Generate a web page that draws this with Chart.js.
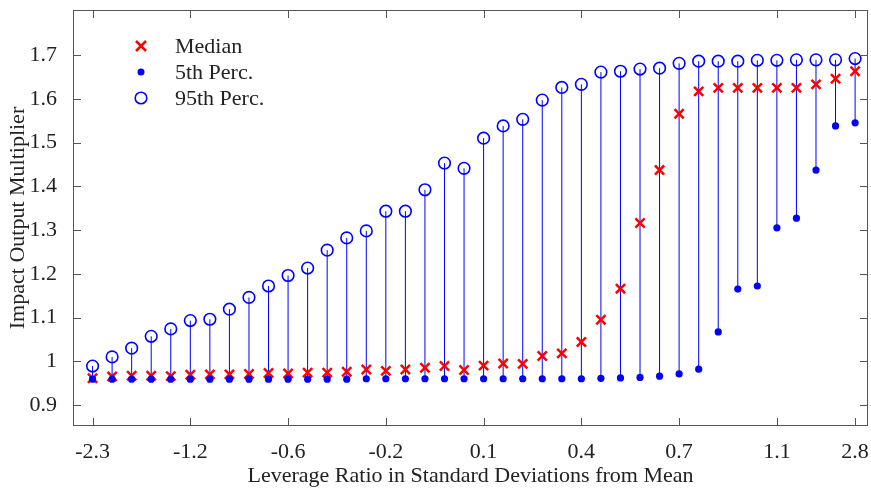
<!DOCTYPE html>
<html lang="en">
<head>
<meta charset="UTF-8">
<title>Impact Output Multiplier</title>
<script src="https://cdn.jsdelivr.net/npm/chart.js"></script>
<style>
    body { margin: 0; background: #fff; }
    #wrap { width: 871px; height: 490px; }
</style>
</head>
<body>
<div id="wrap"><canvas id="stemChart"></canvas></div>
<script>
// x positions are category indices; only some get a label
const tickIdx = [0, 5, 10, 15, 20, 25, 30, 35, 39];
const tickLabels = ['-2.3', '-1.2', '-0.6', '-0.2', '0.1', '0.4', '0.7', '1.1', '2.8'];
const yTicks = [0.9, 1.0, 1.1, 1.2, 1.3, 1.4, 1.5, 1.6, 1.7];

const median = [0.961, 0.965, 0.967, 0.967, 0.966, 0.969, 0.970, 0.970, 0.971, 0.973,
    0.972, 0.974, 0.974, 0.976, 0.981, 0.978, 0.981, 0.985, 0.989, 0.980,
    0.990, 0.995, 0.994, 1.012, 1.018, 1.044, 1.095, 1.166, 1.316, 1.437,
    1.566, 1.617, 1.625, 1.625, 1.625, 1.625, 1.625, 1.633, 1.646, 1.663];
const perc5 = [0.959, 0.959, 0.959, 0.959, 0.959, 0.959, 0.959, 0.959, 0.959, 0.959,
    0.959, 0.959, 0.959, 0.959, 0.960, 0.960, 0.960, 0.960, 0.960, 0.960,
    0.960, 0.960, 0.960, 0.960, 0.960, 0.960, 0.961, 0.962, 0.963, 0.966,
    0.971, 0.982, 1.067, 1.165, 1.172, 1.305, 1.327, 1.437, 1.538, 1.545];
const perc95 = [0.989, 1.010, 1.030, 1.057, 1.074, 1.093, 1.096, 1.119, 1.146, 1.172,
    1.196, 1.213, 1.254, 1.282, 1.298, 1.343, 1.343, 1.392, 1.453, 1.441,
    1.510, 1.538, 1.553, 1.597, 1.626, 1.633, 1.661, 1.663, 1.668, 1.670,
    1.681, 1.686, 1.686, 1.686, 1.688, 1.688, 1.689, 1.689, 1.689, 1.692];

const serif = "'Liberation Serif', 'Times New Roman', serif";
const axisCol = '#555';
const blue = 'rgb(0,0,255)';
const red = 'rgb(255,0,0)';
const fs = 22;

const pts = arr => arr.map((v, i) => ({ x: i, y: v }));

// stems, box, inward ticks and legend
const deco = {
    id: 'deco',
    beforeDatasetsDraw(chart) {
        const ctx = chart.ctx, xs = chart.scales.x, ys = chart.scales.y;
        ctx.save();
        ctx.strokeStyle = blue;
        ctx.lineWidth = 1;
        perc5.forEach((lo, i) => {
            const px = xs.getPixelForValue(i);
            ctx.beginPath();
            ctx.moveTo(px, ys.getPixelForValue(lo));
            ctx.lineTo(px, ys.getPixelForValue(perc95[i]));
            ctx.stroke();
        });
        ctx.restore();
    },
    afterDraw(chart) {
        const ctx = chart.ctx, a = chart.chartArea, xs = chart.scales.x, ys = chart.scales.y;
        ctx.save();
        ctx.strokeStyle = axisCol;
        ctx.lineWidth = 1;
        ctx.strokeRect(a.left + 0.5, a.top + 0.5, a.right - a.left - 1, a.bottom - a.top - 1);
        const tl = 8;
        ctx.beginPath();
        tickIdx.forEach(v => {
            const px = Math.round(xs.getPixelForValue(v)) + 0.5;
            ctx.moveTo(px, a.bottom); ctx.lineTo(px, a.bottom - tl);
            ctx.moveTo(px, a.top); ctx.lineTo(px, a.top + tl);
        });
        yTicks.forEach(v => {
            const py = Math.round(ys.getPixelForValue(v)) + 0.5;
            ctx.moveTo(a.left, py); ctx.lineTo(a.left + tl, py);
            ctx.moveTo(a.right, py); ctx.lineTo(a.right - tl, py);
        });
        ctx.stroke();

        // legend
        const mx = 141, tx = 175, rows = [46, 72, 98];
        ctx.font = fs + 'px ' + serif;
        ctx.fillStyle = '#222';
        ctx.textBaseline = 'middle';
        ['Median', '5th Perc.', '95th Perc.'].forEach((t, i) => ctx.fillText(t, tx, rows[i] + 1));
        ctx.strokeStyle = red; ctx.lineWidth = 2.5;
        ctx.beginPath();
        ctx.moveTo(mx - 5, rows[0] - 5); ctx.lineTo(mx + 5, rows[0] + 5);
        ctx.moveTo(mx + 5, rows[0] - 5); ctx.lineTo(mx - 5, rows[0] + 5);
        ctx.stroke();
        ctx.fillStyle = blue;
        ctx.beginPath(); ctx.arc(mx, rows[1], 3.5, 0, Math.PI * 2); ctx.fill();
        ctx.strokeStyle = blue; ctx.lineWidth = 1.6;
        ctx.beginPath(); ctx.arc(mx, rows[2], 5.8, 0, Math.PI * 2); ctx.stroke();
        ctx.restore();
    }
};

new Chart(document.getElementById('stemChart'), {
    type: 'scatter',
    data: {
        datasets: [{
            label: 'Median',
            data: pts(median),
            pointStyle: 'crossRot',
            pointRadius: 6.5,
            borderColor: red,
            borderWidth: 2.5,
            order: 1
        }, {
            label: '5th Perc.',
            data: pts(perc5),
            pointStyle: 'circle',
            pointRadius: 3.6,
            backgroundColor: blue,
            borderColor: blue,
            borderWidth: 0,
            order: 0
        }, {
            label: '95th Perc.',
            data: pts(perc95),
            pointStyle: 'circle',
            pointRadius: 5.8,
            backgroundColor: 'rgba(0,0,0,0)',
            borderColor: blue,
            borderWidth: 1.6,
            order: 2
        }]
    },
    options: {
        responsive: true,
        maintainAspectRatio: false,
        animation: false,
        layout: { autoPadding: false, padding: { top: 10, right: 3, left: 0, bottom: 0 } },
        plugins: { legend: { display: false }, tooltip: { enabled: false } },
        scales: {
            x: {
                type: 'linear',
                min: -1,
                max: 39.66,
                grid: { display: false },
                border: { display: false },
                afterFit: s => { s.height = 64; s.paddingLeft = 0; s.paddingRight = 0; },
                afterBuildTicks: s => { s.ticks = tickIdx.map(v => ({ value: v })); },
                ticks: {
                    padding: 5,
                    color: '#222',
                    font: { family: serif, size: fs },
                    maxRotation: 0,
                    autoSkip: false,
                    callback: v => tickLabels[tickIdx.indexOf(v)]
                },
                title: {
                    display: true,
                    text: 'Leverage Ratio in Standard Deviations from Mean',
                    color: '#222',
                    font: { family: serif, size: fs },
                    padding: { top: 0, bottom: 1 }
                }
            },
            y: {
                min: 0.852,
                max: 1.803,
                grid: { display: false },
                border: { display: false },
                afterFit: s => { s.width = 73; s.paddingTop = 0; s.paddingBottom = 0; },
                afterBuildTicks: s => { s.ticks = yTicks.map(v => ({ value: v })); },
                ticks: {
                    padding: 8,
                    color: '#222',
                    font: { family: serif, size: fs },
                    callback: v => String(+v.toFixed(1))
                },
                title: {
                    display: true,
                    text: 'Impact Output Multiplier',
                    color: '#222',
                    font: { family: serif, size: fs },
                    padding: { top: 5, bottom: 0 }
                }
            }
        }
    },
    plugins: [deco]
});
</script>
</body>
</html>
